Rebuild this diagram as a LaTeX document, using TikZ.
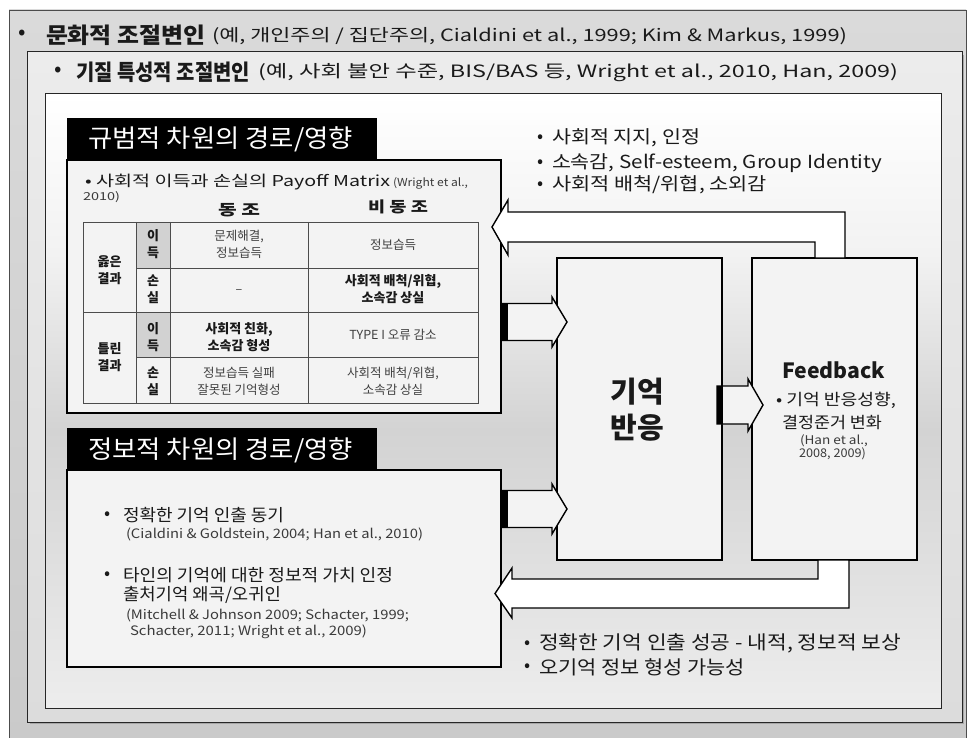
\documentclass[tikz,border=0pt]{standalone}
\usepackage{fontspec}
\usepackage{graphicx}
\setmainfont{Noto Sans CJK KR}
\usetikzlibrary{calc}
\newcommand{\fitw}[2]{\resizebox{#1}{\height}{#2}}
\newcommand{\fsz}[1]{\fontsize{#1}{#1}\selectfont}
\definecolor{boxfill}{HTML}{F3F3F3}
\definecolor{tcell}{HTML}{D2D2D2}
\definecolor{txt}{HTML}{1A1A1A}
\definecolor{cite}{HTML}{3A3A3A}
\definecolor{oA}{HTML}{DADADA}
\definecolor{oB}{HTML}{CACACA}
\definecolor{mA}{HTML}{ECECEC}
\definecolor{mB}{HTML}{DCDCDC}
\definecolor{iBot}{HTML}{EDEDED}
\definecolor{iMid}{HTML}{D3D3D3}
\definecolor{iUp}{HTML}{F2F2F2}
\pgfdeclareverticalshading{innershade}{100bp}{color(0bp)=(iBot); color(25bp)=(iBot); color(47.6bp)=(iMid); color(62bp)=(iUp); color(75bp)=(white); color(100bp)=(white)}
\begin{document}
\begin{tikzpicture}[x=1pt,y=-1pt,
  every node/.style={inner sep=0pt, outer sep=0pt, text=txt},
  frameout/.style={draw=black!70, line width=0.8pt, top color=oA, bottom color=oB},
  framemid/.style={draw=black!85, line width=1pt, top color=mA, bottom color=mB},
  frameinn/.style={draw=black!85, line width=1pt, shading=innershade},
  shadowbox/.style={fill=black!35},
  box/.style={draw=black, line width=1.6pt, fill=boxfill},
  headbar/.style={fill=black},
  headtxt/.style={anchor=west, text=white},
  bigarrow/.style={draw=black, line width=1.4pt, fill=white, line join=miter},
  smallarrow/.style={draw=black, line width=1.4pt, fill=boxfill, line join=miter},
  tailbar/.style={fill=black},
  tline/.style={draw=black!70, line width=0.7pt},
  cell/.style={align=center, font=\fontsize{12.5}{17}\selectfont, text=black!75},
  bcell/.style={align=center, font=\bfseries\fontsize{13}{17}\selectfont, text=black!90},
  lt/.style={anchor=west},
  bul/.style={anchor=center}
]
\useasboundingbox (0,0) rectangle (969,738);
\fill[white] (0,0) rectangle (969,738);

% ---------- frames ----------
\node[frameout, minimum width=957pt, minimum height=735pt] (outer) at (487.5,377.5) {};
\fill[shadowbox] (30,55) rectangle (964,724);
\node[framemid, minimum width=935pt, minimum height=670pt] (mid) at (494.5,387) {};
\fill[shadowbox] (47,96) rectangle (942,709);
\node[frameinn, minimum width=896pt, minimum height=614pt] (inner) at (493,401) {};

% ---------- titles ----------
\node[bul] (b1) at (22,35) {\fsz{22}•};
\node[lt] (t1a) at (46,35) {\fitw{159pt}{\bfseries\fsz{22}문화적 조절변인}};
\node[lt] (t1b) at (212,36) {\fitw{635pt}{\fsz{17}(예, 개인주의 / 집단주의, Cialdini et al., 1999; Kim \& Markus, 1999)}};
\node[bul] (b2) at (58,72) {\fsz{22}•};
\node[lt] (t2a) at (76,72) {\fitw{174pt}{\bfseries\fsz{22}기질 특성적 조절변인}};
\node[lt] (t2b) at (258,73) {\fitw{640pt}{\fsz{17}(예, 사회 불안 수준, BIS/BAS 등, Wright et al., 2010, Han, 2009)}};

% ---------- main boxes ----------
\node[box, minimum width=434pt, minimum height=253pt] (norm) at (284,286.5) {};
\node[headbar, minimum width=310pt, minimum height=42pt] (normhead) at (222,139) {};
\node[headtxt] (normheadtxt) at (88,139) {\fitw{265pt}{\fsz{25}규범적 차원의 경로/영향}};

\node[box, minimum width=434pt, minimum height=197pt] (info) at (284,568.5) {};
\node[headbar, minimum width=310pt, minimum height=42pt] (infohead) at (222,449) {};
\node[headtxt] (infoheadtxt) at (88,450) {\fitw{265pt}{\fsz{25}정보적 차원의 경로/영향}};

\node[box, minimum width=165pt, minimum height=302pt] (mem) at (639.5,409) {};
\node[box, minimum width=165pt, minimum height=302pt] (fb) at (834.5,409) {};

% ---------- payoff matrix ----------
\node[lt] (pm1) at (85,182) {\fitw{305pt}{\fsz{15}• 사회적 이득과 손실의 Payoff Matrix}};
\node[lt, text=cite] (pm2) at (393,183) {\fitw{75pt}{\fsz{11}(Wright et al.,}};
\node[lt, text=cite] (pm3) at (83,197) {\fitw{37pt}{\fsz{11}2010)}};
\node (hd1) at (239,210) {\fitw{42pt}{\bfseries\fsz{15}동 조}};
\node (hd2) at (398,207) {\fitw{60pt}{\bfseries\fsz{15}비 동 조}};

\fill[tcell] (136,222) rectangle (170,268);
\fill[tcell] (136,312) rectangle (170,357);
\draw[tline] (83,222) rectangle (478,403);
\draw[tline] (136,222) -- (136,403);
\draw[tline] (170,222) -- (170,403);
\draw[tline] (308,222) -- (308,403);
\draw[tline] (136,268) -- (478,268);
\draw[tline] (83,312) -- (478,312);
\draw[tline] (136,357) -- (478,357);

\node[bcell] (r12c1) at (109.5,270) {옳은\\결과};
\node[bcell] (r34c1) at (109.5,357) {틀린\\결과};
\node[bcell] (r1c2) at (153,244) {이\\득};
\node[bcell] (r2c2) at (153,289) {손\\실};
\node[bcell] (r3c2) at (153,337) {이\\득};
\node[bcell] (r4c2) at (153,381) {손\\실};
\node[cell] (r1c3) at (239,244) {문제해결,\\정보습득};
\node[cell] (r1c4) at (393,245) {정보습득};
\node[cell] (r2c3) at (239,292) {–};
\node[bcell] (r2c4) at (393,289) {사회적 배척/위협,\\소속감 상실};
\node[bcell] (r3c3) at (239,337) {사회적 친화,\\소속감 형성};
\node[cell] (r3c4) at (393,335) {TYPE I 오류 감소};
\node[cell] (r4c3) at (239,381) {정보습득 실패\\잘못된 기억형성};
\node[cell] (r4c4) at (393,381) {사회적 배척/위협,\\소속감 상실};

% ---------- informational box text ----------
\node[bul] (ib1) at (108,516) {\fsz{18}•};
\node[lt] (i1) at (123,515) {\fitw{161pt}{\fsz{17}정확한 기억 인출 동기}};
\node[lt, text=cite] (i1c) at (126,534) {\fitw{297pt}{\fsz{13}(Cialdini \& Goldstein, 2004; Han et al., 2010)}};
\node[bul] (ib2) at (108,576) {\fsz{18}•};
\node[lt] (i2) at (123,575) {\fitw{270pt}{\fsz{17}타인의 기억에 대한 정보적 가치 인정}};
\node[lt] (i3) at (123,595) {\fitw{158pt}{\fsz{17}출처기억 왜곡/오귀인}};
\node[lt, text=cite] (i3c) at (126,615) {\fitw{283pt}{\fsz{13}(Mitchell \& Johnson 2009; Schacter, 1999;}};
\node[lt, text=cite] (i4c) at (130,632) {\fitw{237pt}{\fsz{13}Schacter, 2011; Wright et al., 2009)}};

% ---------- memory / feedback text ----------
\node[align=center, font=\bfseries\fontsize{29}{36}\selectfont] (memtxt) at (637,410) {기억\\반응};
\node (fbt) at (833.5,370) {\fitw{103pt}{\bfseries\fsz{21}Feedback}};
\node[lt] (fb1) at (776,400) {\fitw{120pt}{\fsz{16}• 기억 반응성향,}};
\node (fb2) at (832,423) {\fitw{100pt}{\fsz{16}결정준거 변화}};
\node[text=cite] (fb3) at (834,441) {\fitw{68pt}{\fsz{12}(Han et al.,}};
\node[text=cite] (fb4) at (832.5,454) {\fitw{67pt}{\fsz{12}2008, 2009)}};

% ---------- right texts ----------
\node[bul] (rb1) at (541,139) {\fsz{18}•};
\node[lt] (r1) at (552,138) {\fitw{148pt}{\fsz{18}사회적 지지, 인정}};
\node[bul] (rb2) at (541,164) {\fsz{18}•};
\node[lt] (r2) at (552,163) {\fitw{330pt}{\fsz{18}소속감, Self-esteem, Group Identity}};
\node[bul] (rb3) at (541,186) {\fsz{18}•};
\node[lt] (r3) at (552,185) {\fitw{215pt}{\fsz{18}사회적 배척/위협, 소외감}};

\node[bul] (bb1) at (528,645) {\fsz{18}•};
\node[lt] (q1) at (539,643) {\fitw{362pt}{\fsz{19}정확한 기억 인출 성공 - 내적, 정보적 보상}};
\node[bul] (bb2) at (528,668) {\fsz{18}•};
\node[lt] (q2) at (539,667) {\fitw{206pt}{\fsz{19}오기억 정보 형성 가능성}};

% ---------- block arrows ----------
\coordinate (c322) at (0,322);
\coordinate (c509) at (0,509);
\coordinate (c405) at (0,405);

% norm -> mem
\coordinate (a1s) at (norm.east |- c322);
\coordinate (a1t) at (mem.west |- c322);
\draw[smallarrow] ($(a1s)+(1,-18.5)$) -- ($(a1t)+(-5,-18.5)$) -- ($(a1t)+(-5,-25)$) -- ($(a1t)+(10,0)$) -- ($(a1t)+(-5,25)$) -- ($(a1t)+(-5,18.5)$) -- ($(a1s)+(1,18.5)$) -- cycle;
\fill[tailbar] ($(a1s)+(1,-18.5)$) rectangle ($(a1s)+(7,18.5)$);

% info -> mem
\coordinate (a2s) at (info.east |- c509);
\coordinate (a2t) at (mem.west |- c509);
\draw[smallarrow] ($(a2s)+(1,-18.5)$) -- ($(a2t)+(-5,-18.5)$) -- ($(a2t)+(-5,-25)$) -- ($(a2t)+(10,0)$) -- ($(a2t)+(-5,25)$) -- ($(a2t)+(-5,18.5)$) -- ($(a2s)+(1,18.5)$) -- cycle;
\fill[tailbar] ($(a2s)+(1,-18.5)$) rectangle ($(a2s)+(7,18.5)$);

% mem -> fb
\coordinate (a3s) at (mem.east |- c405);
\coordinate (a3t) at (fb.west |- c405);
\draw[smallarrow] ($(a3s)+(-5,-19)$) -- ($(a3t)+(-4,-19)$) -- ($(a3t)+(-4,-26)$) -- ($(a3t)+(11,0)$) -- ($(a3t)+(-4,26)$) -- ($(a3t)+(-4,19)$) -- ($(a3s)+(-5,19)$) -- cycle;
\fill[tailbar] ($(a3s)+(-5,-19)$) rectangle ($(a3s)+(1,19)$);

% fb -> norm (top feedback arrow)
\coordinate (b1r) at ($(fb.north west)+(93,0)$);
\coordinate (b1l) at ($(fb.north west)+(63,0)$);
\coordinate (b1tip) at ($(norm.east)+(-9,-59.5)$);
\draw[bigarrow] (b1r) -- ($(b1r)+(0,-46)$) -- ($(b1tip)+(16,-15)$) -- ($(b1tip)+(16,-27)$) -- (b1tip) -- ($(b1tip)+(16,28)$) -- ($(b1tip)+(16,15)$) -- ($(b1l)+(0,-16)$) -- (b1l) -- cycle;

% fb -> info (bottom feedback arrow)
\coordinate (b2r) at ($(fb.south west)+(97,0)$);
\coordinate (b2l) at ($(fb.south west)+(66,0)$);
\coordinate (b2tip) at ($(info.east)+(-6,25)$);
\draw[bigarrow] (b2l) -- ($(b2l)+(0,19)$) -- ($(b2tip)+(17,-14.5)$) -- ($(b2tip)+(17,-25.5)$) -- (b2tip) -- ($(b2tip)+(17,24.5)$) -- ($(b2tip)+(17,14.5)$) -- ($(b2r)+(0,48)$) -- (b2r) -- cycle;
\end{tikzpicture}
\end{document}
